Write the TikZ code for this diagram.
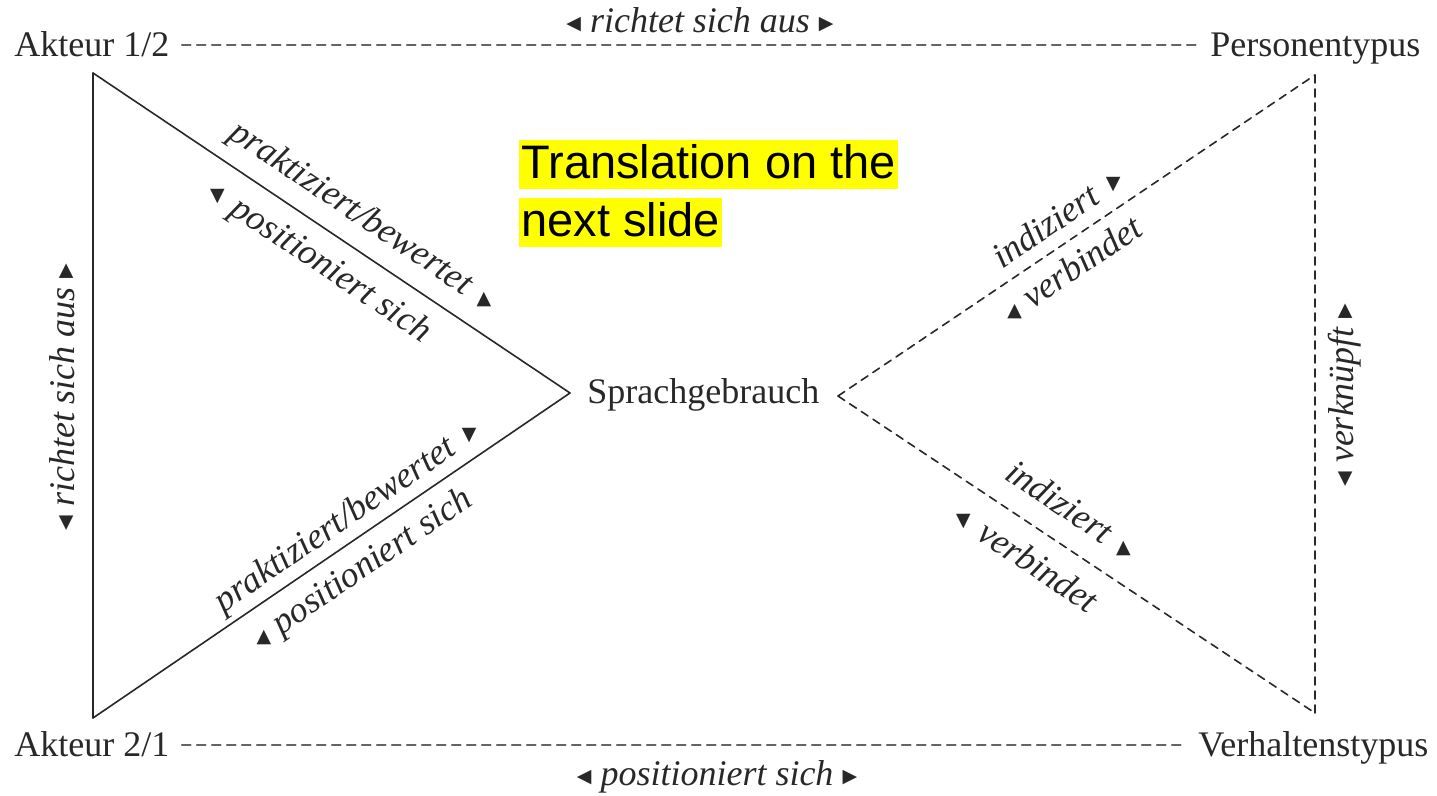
\documentclass[tikz,border=0pt]{standalone}
\usepackage{fontspec}
\setmainfont{Liberation Serif}
\newfontfamily\symfont{DejaVu Sans}
\newfontfamily\slidefont{Liberation Sans}
\usetikzlibrary{positioning}
\newcommand{\trL}{\raisebox{1.5pt}{\symfont\fontsize{9.5}{9.5}\selectfont ◀}}
\newcommand{\trR}{\raisebox{1.5pt}{\symfont\fontsize{9.5}{9.5}\selectfont ▶}}
\newcommand{\trU}[1][0]{\raisebox{1.5pt}{\rotatebox[origin=c]{#1}{\symfont\fontsize{9.5}{9.5}\selectfont ▲}}}
\newcommand{\trD}[1][0]{\raisebox{1.5pt}{\rotatebox[origin=c]{#1}{\symfont\fontsize{9.5}{9.5}\selectfont ▼}}}
\definecolor{ink}{RGB}{40,40,40}
\definecolor{dashgray}{RGB}{100,100,100}
\definecolor{hlyellow}{RGB}{255,255,0}
\tikzset{
  term/.style={font=\fontsize{18}{20}\selectfont, text=ink, inner xsep=6pt, inner ysep=0pt},
  rel/.style={font=\fontsize{18}{20}\selectfont\itshape, text=ink, inner sep=1pt},
  sline/.style={ink, line width=0.8pt},
  dline/.style={ink, line width=0.8pt, dash pattern=on 4pt off 3pt},
  hline/.style={dashgray, line width=0.9pt, dash pattern=on 4.5pt off 3pt},
  hl/.style={fill=hlyellow, font=\slidefont\fontsize{23.5}{26}\selectfont, text height=17.5pt, text depth=4pt, inner xsep=1pt, inner ysep=1.5pt}
}
\begin{document}
\begin{tikzpicture}[x=0.5pt, y=-0.5pt, line join=round, line cap=round]
	\useasboundingbox (0,0) rectangle (1437,796);
	%\draw[gray!30] (0,0) grid[step=100] (1437,796);
	% corners of the two triangles
	\coordinate (A) at (93,73);
	\coordinate (B) at (93,718);
	\coordinate (C) at (570,393);
	\coordinate (D) at (838,396);
	\coordinate (E) at (1315,75);
	\coordinate (F) at (1315,713);
	% terms
	\node[term, anchor=base west] (akt1) at (2,57) {Akteur 1/2};
	\node[term, anchor=base west] (akt2) at (2,757) {Akteur 2/1};
	\node[term, anchor=base west] (pers) at (1198,57) {Personentypus};
	\node[term, anchor=base west] (verh) at (1186,757) {Verhaltenstypus};
	\node[term, anchor=west] (sg) at (575,395) {Sprachgebrauch};
	\draw[hline] (akt1.east) -- (akt1.east -| pers.west);
	\draw[hline] (akt2.east) -- (akt2.east -| verh.west);
	\node[rel] (topl) at (700,20) {\trL\ richtet sich aus \trR};
	\node[rel] (botl) at (717,777) {\trL\ positioniert sich \trR};
	\node[rel, rotate=90] (leftl) at (62,397) {\trL\ richtet sich aus \trR};
	\node[rel, rotate=90] (rightl) at (1345,395) {\trL\ verknüpft \trR};
	% left triangle
	\draw[sline] (A) -- (B);
	\draw[sline] (A) -- node[rel, sloped, above=5.5pt, pos=.53] (ul1) {praktiziert/bewertet \trU[34]}
		node[rel, sloped, below=6.5pt, pos=.51] (ul2) {\trD[34]\ positioniert sich} (C);
	\draw[sline] (B) -- node[rel, sloped, above=1.5pt, pos=.56] (ll1) {praktiziert/bewertet \trD[-34]}
		node[rel, sloped, below=5pt, pos=.53] (ll2) {\trU[-34]\,positioniert sich} (C);
	% right triangle
	\draw[dline] (D) -- node[rel, sloped, above=4.3pt, pos=.49] (ru1) {indiziert \trD[-34]}
		node[rel, sloped, below=4.5pt, pos=.46] (ru2) {\trU[-34]\,verbindet} (E);
	\draw[dline] (D) -- node[rel, sloped, above=9pt, pos=.45] (rl1) {indiziert \trU[34]}
		node[rel, sloped, below=7.5pt, pos=.43] (rl2) {\trD[34]\ verbindet} (F);
	\draw[dline] (E) -- (F);
	% note
	\node[hl, anchor=north west] (tr1) at (519,140) {Translation on the~};
	\node[hl, below right=4pt and 0pt of tr1.south west] (tr2) {next slide};
\end{tikzpicture}
\end{document}
